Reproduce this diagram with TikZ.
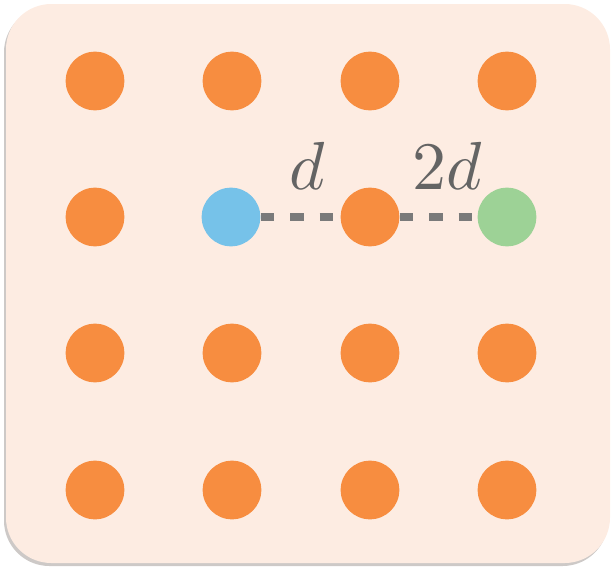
\documentclass[tikz,border=0pt]{standalone}
\usepackage{tikz}

\definecolor{boxfill}{RGB}{253,236,226}
\definecolor{boxshadow}{RGB}{205,201,199}
\definecolor{dotorange}{RGB}{247,141,64}
\definecolor{dotblue}{RGB}{118,194,233}
\definecolor{dotgreen}{RGB}{157,210,150}
\definecolor{linkgray}{RGB}{122,122,122}
\definecolor{labelgray}{RGB}{100,100,100}

\tikzset{every picture/.style={line width=0.75pt}}
\tikzset{
  site/.style={circle, inner sep=0pt, minimum size=44pt, draw=none, fill=dotorange},
  hop/.style={color=linkgray, line width=6pt, dash pattern=on 10pt off 12pt},
  hoplabel/.style={text=labelgray, inner sep=0.2pt, scale=5.1}
}

\begin{document}
\begin{tikzpicture}[x=0.75pt,y=0.75pt,yscale=-1,xscale=1]
\path (0,0) rectangle (615,568); %set diagram to 615 x 568

%Shape: Rounded Rect (shadow)
\fill [boxshadow, rounded corners=34pt] (4,7) rectangle (608,566) ;
%Shape: Rounded Rect
\fill [boxfill, rounded corners=34pt] (6,4) rectangle (610,563) ;

%Shape: Circle row 1
\draw (95,81) node [site] (s11) {};
\draw (232,81) node [site] (s12) {};
\draw (370,81) node [site] (s13) {};
\draw (507,81) node [site] (s14) {};
%Shape: Circle row 2
\draw (95,217) node [site] (s21) {};
\draw (231,217) node [site, fill=dotblue] (s22) {};
\draw (370,217) node [site] (s23) {};
\draw (507,217) node [site, fill=dotgreen] (s24) {};
%Shape: Circle row 3
\draw (95,353) node [site] (s31) {};
\draw (232,353) node [site] (s32) {};
\draw (370,353) node [site] (s33) {};
\draw (507,353) node [site] (s34) {};
%Shape: Circle row 4
\draw (95,490) node [site] (s41) {};
\draw (232,490) node [site] (s42) {};
\draw (370,490) node [site] (s43) {};
\draw (507,490) node [site] (s44) {};

%Dashed Lines
\draw [hop] (s22) -- (s23) ;
\draw [hop] (s23) -- (s24) ;

% Text Node
\draw (307,166) node [hoplabel] (lbl1) {$d$};
% Text Node
\draw (447,166) node [hoplabel] (lbl2) {$2d$};

\end{tikzpicture}
\end{document}
